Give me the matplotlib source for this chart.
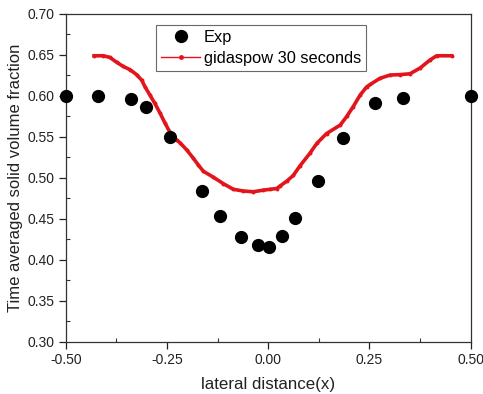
import matplotlib
matplotlib.use("Agg")
import matplotlib.pyplot as plt
from matplotlib.lines import Line2D
from matplotlib.ticker import MultipleLocator, FormatStrFormatter

plt.rcParams['font.family'] = ['Liberation Sans', 'DejaVu Sans']

# Experimental data
exp_x = [-0.500, -0.420, -0.339, -0.302, -0.243, -0.164, -0.120, -0.066, -0.026,
         0.001, 0.035, 0.066, 0.123, 0.184, 0.263, 0.334, 0.500]
exp_y = [0.600, 0.600, 0.596, 0.587, 0.550, 0.484, 0.454, 0.428, 0.418,
         0.416, 0.429, 0.451, 0.4965, 0.549, 0.591, 0.598, 0.600]

# Simulation (gidaspow 30 seconds)
sim_x = [-0.430, -0.407, -0.391, -0.374, -0.358, -0.341, -0.325, -0.312, -0.304,
         -0.292, -0.280, -0.267, -0.255, -0.243, -0.226, -0.218, -0.201, -0.185,
         -0.173, -0.160, -0.136, -0.111, -0.086, -0.062, -0.037, -0.012, 0.005,
         0.021, 0.029, 0.046, 0.062, 0.079, 0.103, 0.120, 0.144, 0.178, 0.194,
         0.210, 0.227, 0.243, 0.252, 0.276, 0.301, 0.326, 0.350, 0.375, 0.400,
         0.416, 0.453]
sim_y = [0.649, 0.649, 0.647, 0.641, 0.636, 0.632, 0.626, 0.619, 0.611,
         0.601, 0.591, 0.579, 0.567, 0.556, 0.546, 0.543, 0.534, 0.524,
         0.516, 0.508, 0.501, 0.493, 0.486, 0.484, 0.483, 0.485, 0.486,
         0.487, 0.490, 0.496, 0.503, 0.515, 0.530, 0.542, 0.554, 0.5645, 0.575,
         0.587, 0.601, 0.611, 0.614, 0.6215, 0.6255, 0.626, 0.627, 0.634, 0.644,
         0.649, 0.649]

legend_labels = ['Exp', 'gidaspow 30 seconds']

red = '#e3141b'
txt = '#222222'

fig = plt.figure(figsize=(4.83, 3.94), dpi=100)
ax = fig.add_axes([0.136, 0.1327, 0.8385, 0.8318])

ax.plot(exp_x, exp_y, 'o', color='black', markersize=8.5,
        clip_on=False, zorder=3)
ax.plot(sim_x, sim_y, '-', color=red, linewidth=2.6, marker='o', markersize=2.8,
        markeredgewidth=0, zorder=2)

ax.set_xlim(-0.5, 0.5)
ax.set_ylim(0.30, 0.70)
ax.xaxis.set_major_locator(MultipleLocator(0.25))
ax.xaxis.set_minor_locator(MultipleLocator(0.125))
ax.yaxis.set_major_locator(MultipleLocator(0.05))
ax.yaxis.set_minor_locator(MultipleLocator(0.025))
ax.xaxis.set_major_formatter(FormatStrFormatter('%.2f'))
ax.yaxis.set_major_formatter(FormatStrFormatter('%.2f'))

ax.tick_params(which='major', direction='out', length=5, width=0.9,
               labelsize=10, colors='#222222', labelcolor=txt, pad=3)
ax.tick_params(which='minor', direction='in', length=3, width=0.8, colors='#333333')
ax.tick_params(top=False, right=False, which='both')
for s in ax.spines.values():
    s.set_linewidth(0.9)
    s.set_color('#333333')

ax.set_xlabel('lateral distance(x)', fontsize=12.2, color=txt, labelpad=7)
ax.set_ylabel('Time averaged solid volume fraction', fontsize=12, color=txt,
              labelpad=3)

h_exp = Line2D([], [], linestyle='none', marker='o', color='black', markersize=8.5)
h_sim = Line2D([], [], linestyle='-', color=red, linewidth=1.0, marker='o',
               markersize=3.5, markeredgewidth=0)
leg = ax.legend([h_exp, h_sim], legend_labels,
                loc='upper left', bbox_to_anchor=(0.223, 0.9665), fontsize=11.8,
                frameon=True, fancybox=False, edgecolor='#444444',
                handlelength=2.4, handletextpad=0.2, borderpad=0.3,
                labelspacing=0.38, borderaxespad=0)
leg.get_frame().set_linewidth(0.8)

fig.savefig('out.png', dpi=100)
